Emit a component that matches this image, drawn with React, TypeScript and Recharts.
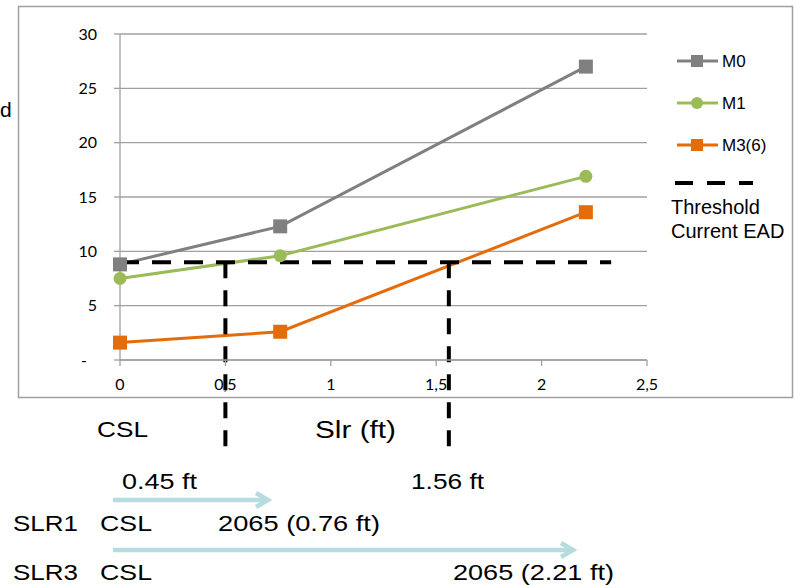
import React from "react";
import {
  LineChart,
  Line,
  XAxis,
  YAxis,
  CartesianGrid,
  ReferenceLine,
  Customized,
} from "recharts";

// sea level rise (ft) and expected annual damage per scenario
const slr = [0, 0.76, 2.21];
const m0 = [8.8, 12.3, 27.0];
const m1 = [7.5, 9.6, 16.9];
const m3 = [1.6, 2.6, 13.6];

const seriesNames = ["M0", "M1", "M3(6)"];
const xTicks = [0, 0.5, 1, 1.5, 2, 2.5];
const yTicks = [0, 5, 10, 15, 20, 25, 30];

const threshold = 9;
const thresholdEnd = 2.33;
const crossings = [0.5, 1.56];
const guideBottom = -8.75;

const rows = slr.map((x, i) => ({ x, m0: m0[i], m1: m1[i], m3: m3[i] }));

const GRAY = "#808080";
const GREEN = "#9BBB59";
const ORANGE = "#E46C0A";
const ARROW = "#B6DCDF";
const AXIS = "#A0A0A0";
const TXT = "Liberation Sans, Arial, sans-serif";
const TICK = "Lato, sans-serif";

const SquareDot = (color: string) => (p: any) => (
  <rect key={p.index} x={p.cx - 7} y={p.cy - 7} width={14} height={14} fill={color} />
);
const CircleDot = (color: string) => (p: any) => (
  <circle key={p.index} cx={p.cx} cy={p.cy} r={6.5} fill={color} />
);

const YTick = ({ x, y, payload }: any) => (
  <text
    x={payload.value === 0 ? x - 10 : x}
    y={y}
    dy="0.355em"
    textAnchor="end"
    fontSize={16}
    fontFamily={TICK}
    fill="#000"
  >
    {payload.value === 0 ? "-" : payload.value}
  </text>
);

const Extras = () => {
  const colors = [GRAY, GREEN, ORANGE];
  return (
    <g>
      {/* legend */}
      {seriesNames.map((n, i) => {
        const cy = 61 + i * 42;
        return (
          <g key={n}>
            <line x1={677} x2={718} y1={cy} y2={cy} stroke={colors[i]} strokeWidth={3} />
            {i === 1 ? (
              <circle cx={697} cy={cy} r={6} fill={colors[i]} />
            ) : (
              <rect x={691} y={cy - 6} width={12} height={12} fill={colors[i]} />
            )}
            <text x={722} y={cy + 6} fontSize={17} fontFamily={TXT} fill="#000">
              {n}
            </text>
          </g>
        );
      })}
      <line x1={675} x2={753} y1={183} y2={183} stroke="#000" strokeWidth={4} strokeDasharray="18 14" />
      <text x={671} y={214} fontSize={20} fontFamily={TXT} fill="#000">Threshold</text>
      <text x={671} y={238} fontSize={20} fontFamily={TXT} fill="#000">Current EAD</text>

      {/* cut-off y label */}
      <text x={0} y={117} fontSize={21} fontFamily={TXT} fill="#000">d</text>

      {/* annotations below the chart */}
      <g fontFamily={TXT} fontSize={22} fill="#000">
        <text x={97} y={437} textLength={51} lengthAdjust="spacingAndGlyphs">CSL</text>
        <text x={315} y={438} fontSize={23} textLength={81} lengthAdjust="spacingAndGlyphs">Slr (ft)</text>
        <text x={122} y={489} textLength={75} lengthAdjust="spacingAndGlyphs">0.45 ft</text>
        <text x={411} y={489} textLength={73} lengthAdjust="spacingAndGlyphs">1.56 ft</text>
        <text x={13} y={531} textLength={65} lengthAdjust="spacingAndGlyphs">SLR1</text>
        <text x={100} y={531} textLength={52} lengthAdjust="spacingAndGlyphs">CSL</text>
        <text x={218} y={531} textLength={162} lengthAdjust="spacingAndGlyphs">2065 (0.76 ft)</text>
        <text x={13} y={580} textLength={65} lengthAdjust="spacingAndGlyphs">SLR3</text>
        <text x={100} y={580} textLength={52} lengthAdjust="spacingAndGlyphs">CSL</text>
        <text x={453} y={580} textLength={161} lengthAdjust="spacingAndGlyphs">2065 (2.21 ft)</text>
      </g>

      {/* arrows */}
      <g stroke={ARROW} strokeWidth={4.5} fill="none">
        <line x1={113} x2={267} y1={500} y2={500} />
        <polyline points="256,493 268,500 256,507" />
        <line x1={113} x2={572} y1={550} y2={550} />
        <polyline points="561,543 573,550 561,557" />
      </g>
    </g>
  );
};

export default function App() {
  return (
    <div style={{ position: "absolute", left: 0, top: 0, width: 794, height: 585, background: "#fff" }}>
      <svg width={794} height={585} style={{ position: "absolute", left: 0, top: 0 }}>
        <rect x={18.5} y={6.5} width={774} height={391} fill="#fff" stroke={AXIS} strokeWidth={1.5} />
      </svg>
      <div style={{ position: "absolute", left: 0, top: 0 }}>
        <LineChart
          width={794}
          height={585}
          data={rows}
          margin={{ top: 34, right: 147, bottom: 195, left: 80 }}
        >
          <CartesianGrid vertical={false} stroke={AXIS} strokeWidth={1.3} />
          <XAxis
            dataKey="x"
            type="number"
            domain={[0, 2.5]}
            ticks={xTicks}
            interval={0}
            height={30}
            tickSize={6}
            tickMargin={13}
            stroke={AXIS}
            strokeWidth={1.3}
            tick={{ fill: "#000", fontSize: 16, fontFamily: TICK }}
            tickFormatter={(v: number) => String(v).replace(".", ",")}
          />
          <YAxis
            type="number"
            domain={[0, 30]}
            ticks={yTicks}
            interval={0}
            width={40}
            tickSize={6}
            tickMargin={17}
            stroke={AXIS}
            strokeWidth={1.3}
            tick={<YTick />}
          />
          <Line
            dataKey="m0"
            name={seriesNames[0]}
            stroke={GRAY}
            strokeWidth={3}
            dot={SquareDot(GRAY)}
            isAnimationActive={false}
          />
          <Line
            dataKey="m1"
            name={seriesNames[1]}
            stroke={GREEN}
            strokeWidth={3}
            dot={CircleDot(GREEN)}
            isAnimationActive={false}
          />
          <Line
            dataKey="m3"
            name={seriesNames[2]}
            stroke={ORANGE}
            strokeWidth={3}
            dot={SquareDot(ORANGE)}
            isAnimationActive={false}
          />
          <ReferenceLine
            segment={[
              { x: 0, y: threshold },
              { x: thresholdEnd, y: threshold },
            ]}
            stroke="#000"
            strokeWidth={4}
            strokeDasharray="19 13"
            ifOverflow="visible"
          />
          {crossings.map((c) => (
            <ReferenceLine
              key={c}
              segment={[
                { x: c, y: threshold },
                { x: c, y: guideBottom },
              ]}
              stroke="#000"
              strokeWidth={4}
              strokeDasharray="16 12"
              ifOverflow="visible"
            />
          ))}
          <Customized component={<Extras />} />
        </LineChart>
      </div>
    </div>
  );
}
